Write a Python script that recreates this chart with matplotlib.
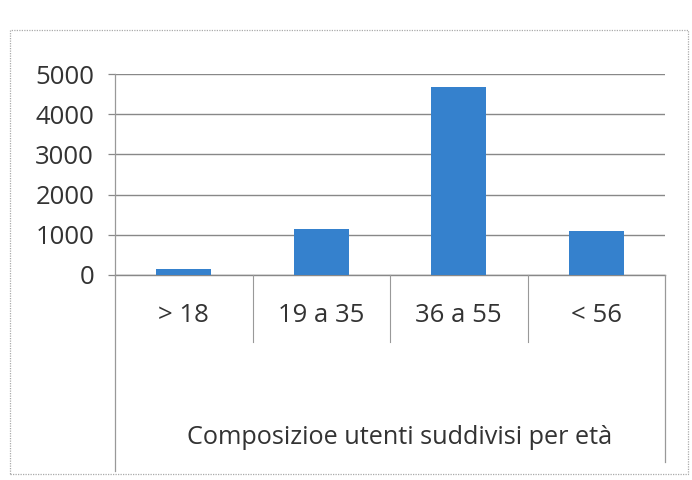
import matplotlib
matplotlib.use('Agg')
import matplotlib.pyplot as plt
from matplotlib.lines import Line2D
from matplotlib.patches import Rectangle
from matplotlib import transforms

# dati
fasce = ['> 18', '19 a 35', '36 a 55', '< 56']
utenti = [160, 1150, 4680, 1100]
yticks = [0, 1000, 2000, 3000, 4000, 5000]
titolo = 'Composizioe utenti suddivisi per età'

plt.rcParams['font.family'] = ['Open Sans', 'DejaVu Sans']

W, H = 692, 480
fig = plt.figure(figsize=(6.92, 4.8), dpi=100)

def fx(x):
    return x / W

def fy(y):
    return 1 - y / H

# area del grafico (pixel)
L, R, T, B = 115, 665, 74, 275
ax = fig.add_axes([fx(L), fy(B), fx(R) - fx(L), fy(T) - fy(B)])
pos = list(range(len(fasce)))
ax.bar(pos, utenti, width=0.4, color='#3581cd', zorder=3)
ax.set_xlim(-0.5, len(fasce) - 0.5)
ax.set_ylim(0, 5000)

ax.set_yticks(yticks)
ax.set_yticklabels([str(v) for v in yticks], fontsize=18.5, color='#333333')
ax.tick_params(axis='y', length=5, color='#888888', width=0.9, pad=10)
ax.set_xticks(pos)
ax.set_xticklabels(fasce, fontsize=18.5, color='#333333')
ax.tick_params(axis='x', length=0, pad=20)

ax.grid(axis='y', color='#888888', lw=1.0, zorder=0)
for s in ['top', 'right']:
    ax.spines[s].set_visible(False)
ax.spines['left'].set_color('#999999')
ax.spines['bottom'].set_color('#888888')
ax.spines['left'].set_linewidth(0.9)
ax.spines['bottom'].set_linewidth(1.0)

# linee dell'asse a due livelli
trans = transforms.blended_transform_factory(ax.transData, fig.transFigure)
for k in range(1, len(fasce)):
    fig.add_artist(Line2D([k - 0.5, k - 0.5], [fy(B), fy(342)], transform=trans,
                          color='#999999', lw=0.8))
fig.add_artist(Line2D([fx(L), fx(L)], [fy(B), fy(471)], transform=fig.transFigure,
                      color='#999999', lw=0.9))
fig.add_artist(Line2D([fx(R), fx(R)], [fy(B), fy(462)], transform=fig.transFigure,
                      color='#999999', lw=0.9))

fig.text(fx(400), fy(438), titolo, fontsize=18.2, color='#333333',
         ha='center', va='center')

# bordo dell'area grafico
fig.add_artist(Rectangle((fx(10), fy(474)), fx(688) - fx(10), fy(30) - fy(474),
                         transform=fig.transFigure, fill=False,
                         edgecolor='#aaaaaa', lw=0.9, linestyle=(0, (1, 1))))

fig.savefig('out.png', dpi=100, facecolor='white')
